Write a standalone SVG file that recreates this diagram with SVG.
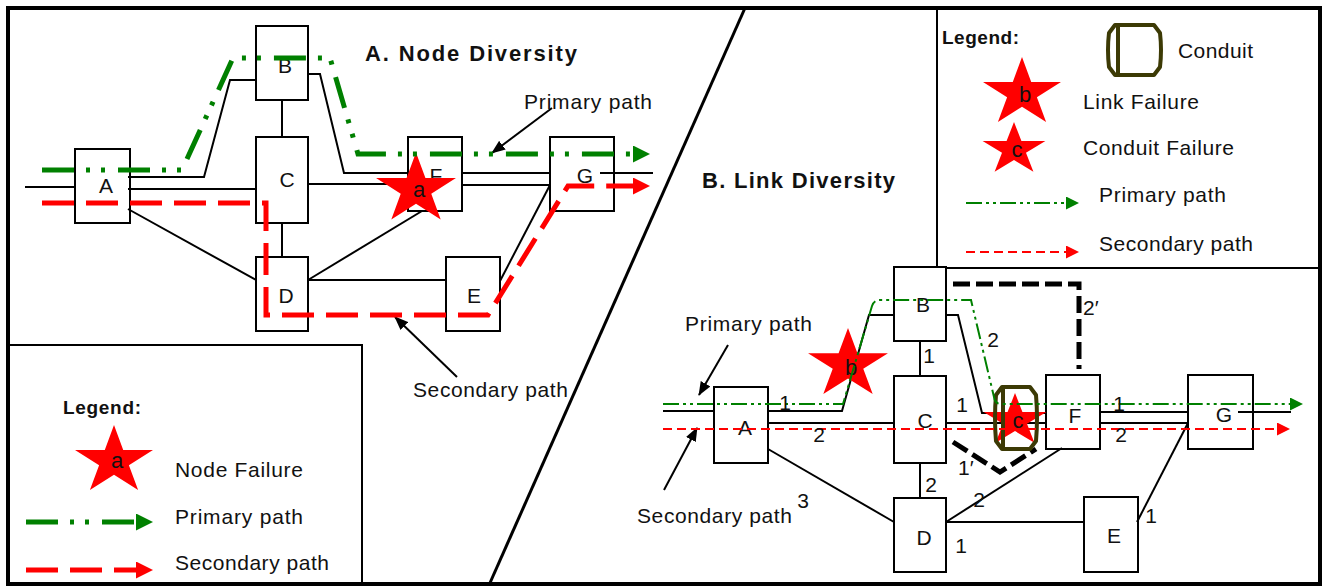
<svg xmlns="http://www.w3.org/2000/svg" xmlns:xlink="http://www.w3.org/1999/xlink" width="1323" height="586" viewBox="0 0 1323 586">
<style>
.t{font-family:"Liberation Sans",Arial,sans-serif;font-size:21px;fill:#111}
.b{font-weight:bold}
.m{text-anchor:middle}
.node rect{fill:#fff;stroke:#000;stroke-width:2}
.ln{fill:none;stroke:#000;stroke-width:2}
.alt{fill:none;stroke:#000;stroke-width:5;stroke-dasharray:17 6}
.gA{fill:none;stroke:#008000;stroke-width:5;stroke-dasharray:32 12 4 11 4 13}
.rA{fill:none;stroke:#ff0000;stroke-width:5;stroke-dasharray:32 12}
.gB{fill:none;stroke:#008000;stroke-width:2;stroke-dasharray:16 4 3 4 3 4}
.rB{fill:none;stroke:#ff0000;stroke-width:2;stroke-dasharray:9 5}
.star{fill:#ff0000}
.cond{fill:none;stroke:#3c3a05;stroke-width:4;stroke-linejoin:round}
.frame{fill:none;stroke:#000}
</style>
<defs>
<polygon id="star" points="0,-100 22.45,-30.9 95.11,-30.9 36.33,11.8 58.78,80.9 0,38.2 -58.78,80.9 -36.33,11.8 -95.11,-30.9 -22.45,-30.9"/>
<marker id="agA" viewBox="0 0 17 17" refX="0" refY="8.5" markerWidth="17" markerHeight="17" markerUnits="userSpaceOnUse" orient="auto"><path d="M0,0 L17,8.5 L0,17 z" fill="#008000"/></marker>
<marker id="arA" viewBox="0 0 17 17" refX="0" refY="8.5" markerWidth="17" markerHeight="17" markerUnits="userSpaceOnUse" orient="auto"><path d="M0,0 L17,8.5 L0,17 z" fill="#ff0000"/></marker>
<marker id="agB" viewBox="0 0 13 13" refX="0" refY="6.5" markerWidth="13" markerHeight="13" markerUnits="userSpaceOnUse" orient="auto"><path d="M0,0 L13,6.5 L0,13 z" fill="#008000"/></marker>
<marker id="arB" viewBox="0 0 13 13" refX="0" refY="6.5" markerWidth="13" markerHeight="13" markerUnits="userSpaceOnUse" orient="auto"><path d="M0,0 L13,6.5 L0,13 z" fill="#ff0000"/></marker>
<marker id="ak" viewBox="0 0 14 11" refX="13" refY="5.5" markerWidth="14" markerHeight="11" markerUnits="userSpaceOnUse" orient="auto"><path d="M0,0 L14,5.5 L0,11 z" fill="#000"/></marker>
</defs>
<rect width="1323" height="586" fill="#fff"/>

<!-- frames -->
<g id="frames" class="frame">
<rect x="8" y="8" width="1312" height="576" stroke-width="4"/>
<path d="M745,8 L489.5,584" stroke-width="3"/>
<path d="M10,345 H362 V584" stroke-width="2"/>
<path d="M937,10 V268 H1318" stroke-width="2"/>
</g>

<!-- Panel A nodes -->
<g id="nodeA-A" class="node"><rect x="75" y="149" width="55" height="74"/><text class="t m" x="106" y="193">A</text></g>
<g id="nodeA-B" class="node"><rect x="256" y="26" width="52" height="74"/><text class="t m" x="285" y="73">B</text></g>
<g id="nodeA-C" class="node"><rect x="256" y="137" width="52" height="86"/><text class="t m" x="287" y="187">C</text></g>
<g id="nodeA-D" class="node"><rect x="256" y="257" width="52" height="74"/><text class="t m" x="286" y="303">D</text></g>
<g id="nodeA-F" class="node"><rect x="408" y="137" width="54" height="74"/><text class="t m" x="436" y="183">F</text></g>
<g id="nodeA-G" class="node"><rect x="550" y="137" width="64" height="74"/><text class="t m" x="585" y="183">G</text></g>
<g id="nodeA-E" class="node"><rect x="446" y="257" width="54" height="74"/><text class="t m" x="474" y="303">E</text></g>

<!-- Panel B nodes -->
<g id="nodeB-A" class="node"><rect x="714" y="387" width="54" height="76"/><text class="t m" x="745" y="435">A</text></g>
<g id="nodeB-B" class="node"><rect x="894" y="267" width="52" height="74"/><text class="t m" x="923" y="312">B</text></g>
<g id="nodeB-C" class="node"><rect x="894" y="376" width="52" height="87"/><text class="t m" x="925" y="428">C</text></g>
<g id="nodeB-D" class="node"><rect x="894" y="498" width="52" height="74"/><text class="t m" x="924" y="545">D</text></g>
<g id="nodeB-F" class="node"><rect x="1046" y="375" width="54" height="74"/><text class="t m" x="1075" y="423">F</text></g>
<g id="nodeB-G" class="node"><rect x="1188" y="375" width="65" height="74"/><text class="t m" x="1224" y="422">G</text></g>
<g id="nodeB-E" class="node"><rect x="1084" y="497" width="54" height="75"/><text class="t m" x="1114" y="543">E</text></g>

<!-- connectors (links) -->
<g id="connectors">
<g class="ln">
<path d="M25,187 H75"/>
<path d="M128,177 H204 L230,80 H256"/>
<path d="M128,189 H256"/>
<path d="M128,209 L256,280"/>
<path d="M282,100 V137"/>
<path d="M308,74 H320 L344,173 H408"/>
<path d="M308,184 H408"/>
<path d="M462,173 H550"/>
<path d="M462,185 H550"/>
<path d="M600,173 H653"/>
<path d="M282,223 V257"/>
<path d="M308,280 L422,211"/>
<path d="M308,280 H446"/>
<path d="M500,281 L550,185"/>

<path d="M663,411 H714"/>
<path d="M768,411 H842 L869,315 H894"/>
<path d="M768,423 H894"/>
<path d="M768,449 L894,522"/>
<path d="M920,341 V376"/>
<path d="M946,315 H958 L982,413 H1046"/>
<path d="M946,423 H1046"/>
<path d="M1100,412 H1188"/>
<path d="M1100,423 H1188"/>
<path d="M1238,412 H1291"/>
<path d="M920,463 V498"/>
<path d="M946,522 L1062,448"/>
<path d="M946,522 H1084"/>
<path d="M1137,522 L1188,423"/>

<path d="M552,108 L492,153" marker-end="url(#ak)"/>
<path d="M457,377 L395,317" marker-end="url(#ak)"/>
<path d="M728,345 L699,395" marker-end="url(#ak)"/>
<path d="M664,490 L697,428" marker-end="url(#ak)"/>
</g>
<path class="alt" d="M953,284 H1079 V369"/>
<path class="alt" d="M953,442 L1000,472 L1036,449"/>
</g>

<!-- failures -->
<g id="failure-a"><use xlink:href="#star" href="#star" class="star" transform="translate(416,189.5) scale(0.42,0.37)"/><text class="t m" x="419" y="197" style="font-size:22px">a</text></g>
<g id="failure-b"><use xlink:href="#star" href="#star" class="star" transform="translate(848,364.5) scale(0.42,0.365)"/><text class="t m" x="851" y="375" style="font-size:22px">b</text></g>
<g id="failure-c"><use xlink:href="#star" href="#star" class="star" transform="translate(1015,420.5) scale(0.33,0.276)"/></g>
<g id="conduit"><path class="cond" d="M1002,387 H1030 L1036,395 Q1038,418 1036,441 L1030,449 H1002 L996,441 Q994,418 996,395 Z"/><path class="cond" d="M1003,389 V447"/></g>
<text class="t m" x="1018" y="428" style="font-size:22px">c</text>

<!-- routed paths -->
<g id="paths">
<path class="gA" d="M42,170 H182 L233,58 H330 L358,154 H633" marker-end="url(#agA)"/>
<path class="rA" d="M42,203 H266 V315 H488 L568,186 H633" marker-end="url(#arA)"/>
<path class="gB" d="M663,404 H843 L872,306 Q874,300 880,300 H971 L994,397 Q995,404 1001,404 H1290" marker-end="url(#agB)"/>
<path class="rB" d="M663,429 H1277" marker-end="url(#arB)"/>
</g>

<!-- labels -->
<g id="labels">
<text class="t b" x="365" y="61" textLength="212" lengthAdjust="spacing" style="font-size:22px">A. Node Diversity</text>
<text class="t b" x="702" y="188" textLength="193" lengthAdjust="spacing" style="font-size:22px">B. Link Diversity</text>
<text class="t" x="524" y="109" textLength="128" lengthAdjust="spacing">Primary path</text>
<text class="t" x="413" y="397" textLength="155" lengthAdjust="spacing">Secondary path</text>
<text class="t" x="685" y="331" textLength="127" lengthAdjust="spacing">Primary path</text>
<text class="t" x="637" y="523" textLength="155" lengthAdjust="spacing">Secondary path</text>
<text class="t m" x="785" y="410">1</text>
<text class="t m" x="819" y="442">2</text>
<text class="t m" x="803" y="508">3</text>
<text class="t m" x="929" y="363">1</text>
<text class="t m" x="962" y="412">1</text>
<text class="t m" x="931" y="492">2</text>
<text class="t" x="958" y="475">1′</text>
<text class="t m" x="979" y="507">2</text>
<text class="t m" x="961" y="553">1</text>
<text class="t m" x="993" y="347">2</text>
<text class="t" x="1083" y="315">2′</text>
<text class="t m" x="1119" y="411">1</text>
<text class="t m" x="1121" y="442">2</text>
<text class="t m" x="1151" y="523">1</text>
</g>

<!-- legend A -->
<g id="legendA">
<text class="t b" x="63" y="414" textLength="78" lengthAdjust="spacing" style="font-size:19px">Legend:</text>
<use xlink:href="#star" href="#star" class="star" transform="translate(114,461) scale(0.41,0.36)"/>
<text class="t m" x="117" y="468" style="font-size:22px">a</text>
<text class="t" x="175" y="477" textLength="128" lengthAdjust="spacing">Node Failure</text>
<path class="gA" d="M26,522 H136" marker-end="url(#agA)"/>
<text class="t" x="175" y="524" textLength="128" lengthAdjust="spacing">Primary path</text>
<path class="rA" d="M26,570 H136" marker-end="url(#arA)"/>
<text class="t" x="175" y="570" textLength="154" lengthAdjust="spacing">Secondary path</text>
</g>

<!-- legend B -->
<g id="legendB">
<text class="t b" x="942" y="44" textLength="77" lengthAdjust="spacing" style="font-size:19px">Legend:</text>
<path class="cond" d="M1115,25 H1154 L1160,33 Q1162,50 1160,67 L1154,75 H1115 L1109,67 Q1107,50 1109,33 Z"/>
<path class="cond" d="M1118,27 V73"/>
<text class="t" x="1178" y="58" textLength="75" lengthAdjust="spacing">Conduit</text>
<use xlink:href="#star" href="#star" class="star" transform="translate(1022,93) scale(0.41,0.36)"/>
<text class="t m" x="1025" y="102" style="font-size:22px">b</text>
<text class="t" x="1083" y="109" textLength="116" lengthAdjust="spacing">Link Failure</text>
<use xlink:href="#star" href="#star" class="star" transform="translate(1014,149.5) scale(0.33,0.276)"/>
<text class="t m" x="1017" y="157" style="font-size:22px">c</text>
<text class="t" x="1083" y="155" textLength="151" lengthAdjust="spacing">Conduit Failure</text>
<path class="gB" d="M966,203 H1066" marker-end="url(#agB)"/>
<text class="t" x="1099" y="202" textLength="127" lengthAdjust="spacing">Primary path</text>
<path class="rB" d="M966,252 H1066" marker-end="url(#arB)"/>
<text class="t" x="1099" y="251" textLength="154" lengthAdjust="spacing">Secondary path</text>
</g>
</svg>
